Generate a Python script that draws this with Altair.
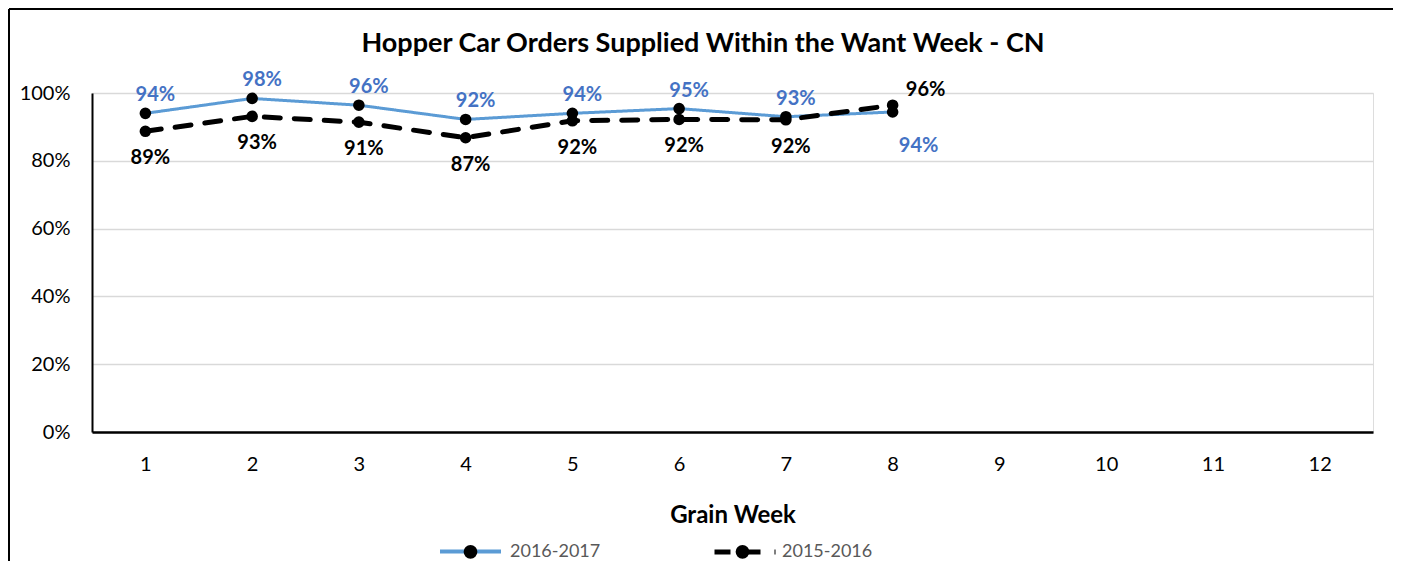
import altair as alt
import pandas as pd

weeks = [1, 2, 3, 4, 5, 6, 7, 8]
all_weeks = list(range(1, 13))
series_names = ["2016-2017", "2015-2016"]
values_1617 = [0.940, 0.984, 0.964, 0.922, 0.940, 0.954, 0.930, 0.944]
values_1516 = [0.887, 0.931, 0.914, 0.868, 0.918, 0.922, 0.921, 0.964]
y_ticks = [0, 0.2, 0.4, 0.6, 0.8, 1.0]
chart_title = "Hopper Car Orders Supplied Within the Want Week - CN"

rows = []
for w, v in zip(weeks, values_1617):
    rows.append({"week": w, "value": v, "series": series_names[0]})
for w, v in zip(weeks, values_1516):
    rows.append({"week": w, "value": v, "series": series_names[1]})
df = pd.DataFrame(rows)
df["series2"] = df["series"]
df["series3"] = df["series"]

FONT = "Lato"
W, H = 1281, 339
PAD = {"left": 84, "top": 85, "right": 20, "bottom": 129}

x_enc = alt.X(
    "week:O",
    scale=alt.Scale(domain=all_weeks),
    axis=alt.Axis(
        title="Grain Week",
        labelAngle=0,
        ticks=False,
        grid=False,
        domainColor="black",
        domainWidth=2.5,
        labelFontSize=20,
        labelColor="black",
        labelFont=FONT,
        labelPadding=22,
        titleFont=FONT,
        titleFontSize=24,
        titleFontWeight="bold",
        titleColor="black",
        titlePadding=29,
    ),
)
y_enc = alt.Y(
    "value:Q",
    scale=alt.Scale(domain=[0, 1], nice=False),
    axis=alt.Axis(
        title=None,
        format=".0%",
        values=y_ticks,
        ticks=False,
        grid=True,
        gridColor="#d9d9d9",
        gridWidth=1.5,
        domainColor="black",
        domainWidth=2,
        labelFontSize=20,
        labelColor="black",
        labelFont=FONT,
        labelPadding=22,
    ),
)

LEG_X, LEG_Y = 346, 426
LEG_STEP = 274
SYM_SIZE = 3721
line_path = "M-1,0L1,0"
dot_path = "M-0.16,0A0.16,0.16,0,1,1,0.16,0A0.16,0.16,0,1,1,-0.16,0Z"

common_leg = dict(
    title=None,
    orient="none",
    legendY=LEG_Y,
    direction="horizontal",
    symbolSize=SYM_SIZE,
    labelFont=FONT,
    labelFontSize=18,
    labelOffset=7,
    columnPadding=109,
    padding=0,
)
hidden_labels = dict(labelColor="transparent", labelOpacity=0)

# solid blue entry
solid_legend = alt.Legend(
    legendX=LEG_X, symbolType=line_path, values=[series_names[0]], zindex=1,
    symbolStrokeWidth=4, **hidden_labels, **common_leg,
)
# dashed black entry
dash_legend = alt.Legend(
    legendX=LEG_X + LEG_STEP, symbolType=line_path, values=[series_names[1]],
    symbolStrokeColor="black", symbolStrokeWidth=5, zindex=1, **hidden_labels, **common_leg,
)
# dots + visible labels for both entries
dot_legend = alt.Legend(
    legendX=LEG_X, symbolType=dot_path, symbolStrokeColor="black", symbolStrokeWidth=4,
    labelColor="#595959", zindex=3, **common_leg,
)

base = alt.Chart(df)

lines = base.mark_line(strokeCap="round").encode(
    x=x_enc,
    y=y_enc,
    color=alt.Color(
        "series:N",
        sort=series_names,
        scale=alt.Scale(range=["#5B9BD5", "black"]),
        legend=solid_legend,
    ),
    strokeDash=alt.StrokeDash(
        "series3:N",
        sort=series_names,
        scale=alt.Scale(range=[[1, 0], [16, 14]]),
        legend=dash_legend,
    ),
    strokeWidth=alt.StrokeWidth(
        "series:N",
        sort=series_names,
        scale=alt.Scale(range=[3, 5]),
        legend=None,
    ),
)

points = base.mark_point(filled=True, size=135, opacity=1, strokeWidth=0).encode(
    x="week:O",
    y="value:Q",
    fill=alt.Fill(
        "series2:N",
        sort=series_names,
        scale=alt.Scale(range=["black", "black"]),
        legend=dot_legend,
    ),
)

lbl_style = dict(font=FONT, fontSize=20, fontWeight="bold")


def labels(series, cond, color, dx, dy):
    return base.transform_filter(
        (alt.datum.series == series) & cond
    ).mark_text(color=color, dx=dx, dy=dy, **lbl_style).encode(
        x="week:O", y="value:Q", text=alt.Text("value:Q", format=".0%")
    )


blue_lbl = labels(series_names[0], alt.datum.week <= 7, "#4472C4", 10, -18)
blue_lbl8 = labels(series_names[0], alt.datum.week == 8, "#4472C4", 26, 34)
black_lbl = labels(series_names[1], alt.datum.week <= 7, "black", 5, 27)
black_lbl8 = labels(series_names[1], alt.datum.week == 8, "black", 33, -15)

frame_df = pd.DataFrame({"k": [0]})
frame_top = alt.Chart(frame_df).mark_rule(color="black", strokeWidth=2).encode(
    x=alt.value(-PAD["left"] + 1), x2=alt.value(W + PAD["right"]), y=alt.value(-PAD["top"] + 1)
)
frame_left = alt.Chart(frame_df).mark_rule(color="black", strokeWidth=2).encode(
    x=alt.value(-PAD["left"] + 1), y=alt.value(-PAD["top"] + 1), y2=alt.value(H + PAD["bottom"])
)
title_mark = alt.Chart(frame_df).mark_text(
    font=FONT, fontSize=27, fontWeight="bold", color="black", align="center", baseline="alphabetic"
).encode(x=alt.value(611), y=alt.value(-41), text=alt.value(chart_title))

chart = (
    alt.layer(lines, points, blue_lbl, blue_lbl8, black_lbl, black_lbl8, frame_top, frame_left, title_mark)
    .properties(
        width=W,
        height=H,
        padding=PAD,
        autosize=alt.AutoSizeParams(type="none"),
    )
    .configure_view(stroke=None)
    .configure(background="white")
)

chart.save("out.html", embed_options={"renderer": "svg", "actions": False})
